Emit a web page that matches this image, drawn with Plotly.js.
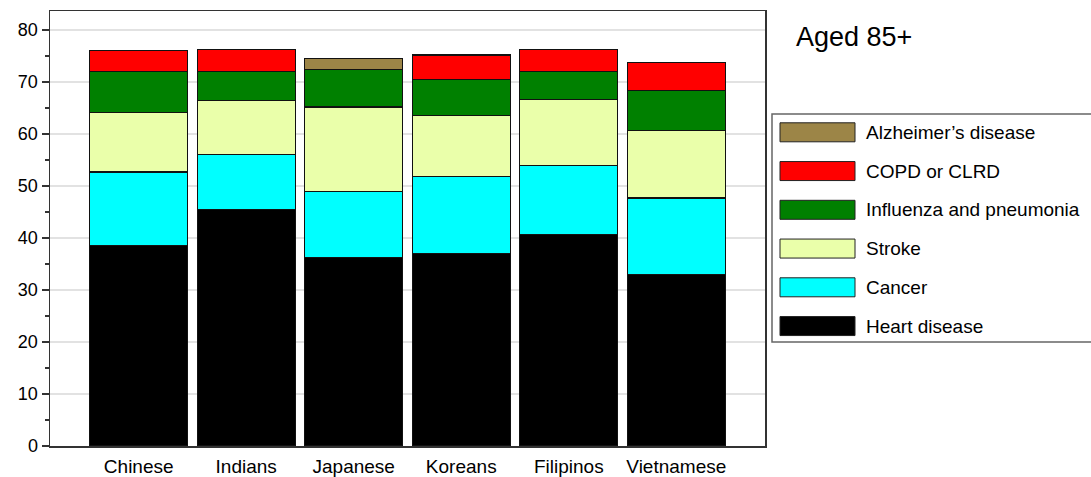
<!DOCTYPE html>
<html>
<head>
<meta charset="utf-8">
<script src="https://cdn.plot.ly/plotly-3.0.1.min.js"></script>
<style>html,body{margin:0;padding:0;background:#fff;}#chart{width:1091px;height:477px;}</style>
</head>
<body>
<div id="chart"></div>
<script>
// ---- data ----
var categories = ["Chinese", "Indians", "Japanese", "Koreans", "Filipinos", "Vietnamese"];
var heartDisease = [38.6, 45.5, 36.2, 37.0, 40.6, 33.0];
var cancer       = [14.1, 10.6, 12.8, 14.8, 13.3, 14.7];
var stroke       = [11.5, 10.3, 16.2, 11.7, 12.7, 12.9];
var influenza    = [7.8, 5.6, 7.2, 7.0, 5.4, 7.8];
var copd         = [4.0, 4.3, null, 4.7, 4.3, 5.4];
var alzheimers   = [null, null, 2.1, null, null, null];
var seriesNames  = ["Heart disease", "Cancer", "Stroke", "Influenza and pneumonia", "COPD or CLRD", "Alzheimer\u2019s disease"];
var seriesColors = ["#000000", "#00ffff", "#eaffaa", "#008000", "#ff0000", "#9c8547"];
var yTicks = [0, 10, 20, 30, 40, 50, 60, 70, 80];
var titleText = "Aged 85+";

// ---- layout geometry (pixels) ----
var W = 1091, H = 477;
var mL = 50, mR = 326, mT = 11, mB = 31;
var plotW = W - mL - mR, plotH = H - mT - mB;
function px2x(px) { return (px - mL) / plotW; }
function px2y(py) { return (H - mB - py) / plotH; }

var seriesValues = [heartDisease, cancer, stroke, influenza, copd, alzheimers];
var traces = seriesValues.map(function (vals, i) {
  return {
    type: "bar",
    x: categories,
    y: vals,
    name: seriesNames[i],
    marker: { color: seriesColors[i], line: { color: "#111", width: 1.2 } },
    showlegend: false,
    hoverinfo: "none"
  };
});

var FONT = "Liberation Sans, Arial, sans-serif";
var shapes = [], annotations = [];

// legend box
shapes.push({ type: "rect", xref: "paper", yref: "paper",
  x0: px2x(772), x1: px2x(1096), y0: px2y(342), y1: px2y(114),
  line: { color: "#666", width: 1.5 }, fillcolor: "rgba(0,0,0,0)" });

// legend entries, top to bottom (reverse of stack order)
var itemTop = 132.3, itemStep = 38.75;
for (var k = 0; k < seriesNames.length; k++) {
  var idx = seriesNames.length - 1 - k;
  var cy = itemTop + k * itemStep;
  shapes.push({ type: "rect", xref: "paper", yref: "paper",
    x0: px2x(780), x1: px2x(855), y0: px2y(cy + 9.5), y1: px2y(cy - 9.5),
    fillcolor: seriesColors[idx], line: { color: "#222", width: 1 } });
  annotations.push({ xref: "paper", yref: "paper", x: px2x(864), y: px2y(cy),
    xanchor: "left", yanchor: "middle", showarrow: false, text: seriesNames[idx],
    font: { family: FONT, size: 19, color: "#000" } });
}

annotations.push({ xref: "paper", yref: "paper", x: px2x(794), y: px2y(37),
  xanchor: "left", yanchor: "middle", showarrow: false, text: titleText,
  font: { family: FONT, size: 27, color: "#000" } });

var layout = {
  width: W, height: H,
  margin: { l: mL, r: mR, t: mT, b: mB, pad: 0 },
  paper_bgcolor: "#fff", plot_bgcolor: "#fff",
  barmode: "stack",
  bargap: 0.09,
  font: { family: FONT, size: 18, color: "#000" },
  showlegend: false,
  xaxis: {
    type: "category",
    range: [-0.825, 5.825],
    showline: true, linecolor: "#333", linewidth: 1.5, mirror: true,
    ticks: "", showgrid: false, zeroline: false,
    ticklabelstandoff: 3,
    tickfont: { family: FONT, size: 19, color: "#000" },
    fixedrange: true
  },
  yaxis: {
    range: [0, 83.65],
    tickvals: yTicks,
    ticktext: yTicks.map(String),
    ticks: "outside", ticklen: 7, tickwidth: 1.2, tickcolor: "#333",
    minor: { dtick: 5, ticks: "outside", ticklen: 4, tickcolor: "#333", showgrid: false },
    showline: true, linecolor: "#333", linewidth: 1.5, mirror: true,
    showgrid: true, gridcolor: "#e2e2e2", gridwidth: 1.2,
    zeroline: false,
    tickfont: { family: FONT, size: 18, color: "#000" },
    fixedrange: true
  },
  shapes: shapes,
  annotations: annotations
};

Plotly.newPlot("chart", traces, layout, { staticPlot: true, displayModeBar: false });
</script>
</body>
</html>
